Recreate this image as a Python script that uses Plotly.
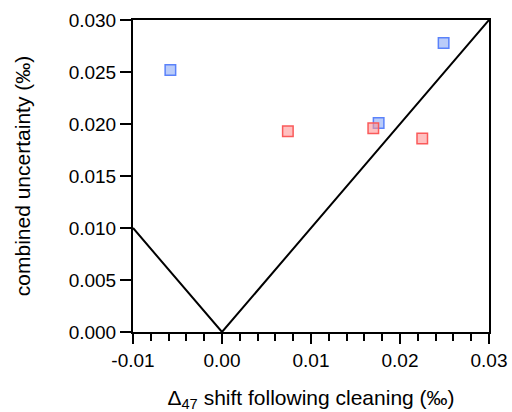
import plotly.graph_objects as go

blue_x = [-0.0058, 0.0176, 0.0249]
blue_y = [0.0252, 0.0201, 0.0278]
red_x = [0.0074, 0.0170, 0.0225]
red_y = [0.0193, 0.0196, 0.0186]
line_x = [-0.01, 0.0, 0.03]
line_y = [0.01, 0.0, 0.03]

fig = go.Figure()
fig.add_trace(go.Scatter(x=line_x, y=line_y, mode="lines",
                         line=dict(color="black", width=2), showlegend=False))
fig.add_trace(go.Scatter(x=blue_x, y=blue_y, mode="markers", showlegend=False,
                         marker=dict(symbol="square", size=10.5, color="rgba(140,170,245,0.6)",
                                     line=dict(color="rgb(90,130,250)", width=1.5))))
fig.add_trace(go.Scatter(x=red_x, y=red_y, mode="markers", showlegend=False,
                         marker=dict(symbol="square", size=10.5, color="rgba(255,150,150,0.6)",
                                     line=dict(color="rgb(250,90,90)", width=1.5))))

fam = "Liberation Sans, Arial, sans-serif"
fig.update_layout(
    width=512, height=412,
    margin=dict(l=133, r=23, t=20, b=80),
    plot_bgcolor="white", paper_bgcolor="white",
    font=dict(family=fam, size=19, color="black"),
    xaxis=dict(range=[-0.01, 0.03], tickvals=[-0.01, 0, 0.01, 0.02, 0.03],
               ticktext=["-0.01", "0.00", "0.01", "0.02", "0.03"],
               tickfont=dict(family=fam, size=19, color="black"), automargin=False,
               showgrid=False, zeroline=False, showline=True, linecolor="black", linewidth=2,
               mirror=True, ticks="outside", ticklen=10, tickwidth=2, tickcolor="black",
               minor=dict(dtick=0.002, tick0=0, ticks="outside", ticklen=7, tickwidth=1.5, tickcolor="black"),
               title=dict(text="Δ<sub>47</sub> shift following cleaning (‰)",
                          font=dict(family=fam, size=21, color="black"), standoff=24)),
    yaxis=dict(range=[0, 0.03], tickvals=[0, 0.005, 0.01, 0.015, 0.02, 0.025, 0.03],
               ticktext=["0.000", "0.005", "0.010", "0.015", "0.020", "0.025", "0.030"],
               tickfont=dict(family=fam, size=19, color="black"), automargin=False,
               showgrid=False, zeroline=False, showline=True, linecolor="black", linewidth=2,
               mirror=True, ticks="outside", ticklen=11, tickwidth=2, tickcolor="black",
               title=dict(text="combined uncertainty (‰)",
                          font=dict(family=fam, size=21, color="black"), standoff=32)),
)
fig.write_html("out.html")
